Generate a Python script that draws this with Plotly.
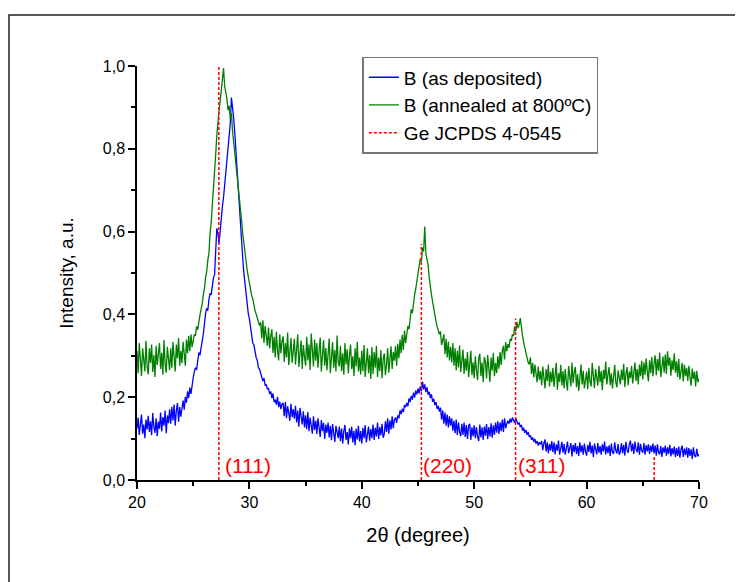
import plotly.graph_objects as go

# 2-theta grid: 20.0 .. 70.0 step 0.1
two_theta_start = 20.0
two_theta_step = 0.1

as_deposited = [
    0.124,0.151,0.109,0.139,0.158,0.112,0.134,0.101,0.146,0.122,
    0.155,0.116,0.142,0.108,0.162,0.129,0.114,0.149,0.106,0.141,
    0.124,0.163,0.117,0.152,0.131,0.168,0.113,0.156,0.137,0.171,
    0.136,0.177,0.144,0.182,0.131,0.168,0.186,0.141,0.176,0.153,
    0.178,0.192,0.170,0.201,0.187,0.214,0.198,0.223,0.208,0.236,
    0.247,0.262,0.271,0.266,0.289,0.308,0.301,0.327,0.336,0.352,
    0.388,0.402,0.415,0.409,0.436,0.451,0.447,0.472,0.488,0.496,
    0.548,0.608,0.596,0.572,0.601,0.638,0.661,0.683,0.712,0.734,
    0.756,0.788,0.822,0.861,0.924,0.903,0.874,0.838,0.792,0.738,
    0.701,0.656,0.612,0.571,0.538,0.502,0.474,0.446,0.421,0.402,
    0.389,0.368,0.352,0.331,0.326,0.308,0.296,0.289,0.271,0.268,
    0.258,0.251,0.239,0.246,0.228,0.231,0.219,0.222,0.208,0.214,
    0.198,0.209,0.188,0.194,0.182,0.201,0.176,0.189,0.171,0.184,
    0.186,0.154,0.189,0.149,0.178,0.163,0.143,0.184,0.152,0.171,
    0.148,0.179,0.139,0.168,0.129,0.174,0.145,0.134,0.166,0.127,
    0.156,0.123,0.164,0.118,0.151,0.131,0.112,0.154,0.121,0.143,
    0.111,0.149,0.121,0.104,0.145,0.118,0.138,0.099,0.134,0.114,
    0.139,0.103,0.131,0.096,0.135,0.114,0.092,0.131,0.109,0.101,
    0.129,0.094,0.124,0.088,0.118,0.133,0.097,0.116,0.086,0.125,
    0.101,0.129,0.091,0.119,0.084,0.124,0.098,0.131,0.093,0.118,
    0.088,0.126,0.101,0.133,0.091,0.119,0.129,0.095,0.123,0.101,
    0.134,0.097,0.126,0.105,0.139,0.099,0.128,0.108,0.136,0.102,
    0.111,0.142,0.116,0.149,0.112,0.144,0.122,0.154,0.125,0.146,
    0.151,0.138,0.156,0.149,0.168,0.159,0.172,0.164,0.181,0.176,
    0.186,0.178,0.197,0.188,0.203,0.194,0.211,0.199,0.216,0.207,
    0.221,0.209,0.226,0.214,0.238,0.219,0.231,0.212,0.224,0.206,
    0.213,0.198,0.207,0.189,0.196,0.181,0.188,0.172,0.179,0.165,
    0.175,0.146,0.168,0.136,0.163,0.131,0.158,0.127,0.154,0.131,
    0.149,0.119,0.143,0.113,0.146,0.109,0.139,0.117,0.106,0.136,
    0.109,0.139,0.104,0.133,0.099,0.131,0.136,0.097,0.127,0.106,
    0.132,0.101,0.128,0.104,0.094,0.134,0.103,0.127,0.097,0.129,
    0.107,0.135,0.099,0.128,0.105,0.137,0.102,0.132,0.109,0.139,
    0.114,0.142,0.111,0.139,0.118,0.146,0.116,0.149,0.125,0.136,
    0.143,0.136,0.148,0.139,0.151,0.144,0.138,0.149,0.141,0.134,
    0.139,0.128,0.133,0.119,0.126,0.114,0.121,0.109,0.116,0.104,
    0.108,0.097,0.103,0.092,0.099,0.088,0.094,0.083,0.091,0.086,
    0.094,0.072,0.089,0.098,0.069,0.091,0.065,0.087,0.071,0.094,
    0.067,0.091,0.062,0.086,0.071,0.095,0.061,0.084,0.092,0.066,
    0.087,0.061,0.083,0.093,0.065,0.079,0.089,0.057,0.085,0.068,
    0.089,0.063,0.082,0.058,0.091,0.067,0.084,0.061,0.088,0.069,
    0.059,0.085,0.068,0.092,0.064,0.083,0.056,0.088,0.069,0.062,
    0.089,0.066,0.082,0.061,0.086,0.069,0.093,0.062,0.081,0.065,
    0.084,0.058,0.088,0.067,0.063,0.091,0.071,0.064,0.087,0.061,
    0.068,0.089,0.065,0.085,0.059,0.092,0.072,0.066,0.086,0.095,
    0.069,0.088,0.063,0.093,0.074,0.067,0.091,0.061,0.087,0.071,
    0.066,0.089,0.061,0.084,0.069,0.086,0.063,0.083,0.068,0.088,
    0.064,0.083,0.059,0.086,0.067,0.062,0.082,0.056,0.079,0.066,
    0.083,0.059,0.079,0.063,0.085,0.057,0.077,0.062,0.081,0.055,
    0.077,0.058,0.081,0.054,0.074,0.083,0.056,0.076,0.060,0.079,
    0.054,0.077,0.058,0.074,0.051,0.079,0.059,0.055,0.075,0.057,
    0.062,
]

annealed_800 = [
    0.312,0.258,0.331,0.279,0.251,0.318,0.296,0.262,0.336,0.274,
    0.255,0.318,0.283,0.327,0.261,0.302,0.249,0.324,0.278,0.309,
    0.331,0.268,0.307,0.254,0.338,0.281,0.259,0.322,0.291,0.265,
    0.318,0.271,0.334,0.286,0.262,0.327,0.294,0.343,0.276,0.312,
    0.282,0.334,0.301,0.276,0.339,0.306,0.348,0.311,0.352,0.321,
    0.336,0.352,0.348,0.371,0.363,0.389,0.398,0.412,0.425,0.447,
    0.462,0.489,0.503,0.531,0.548,0.597,0.621,0.664,0.698,0.741,
    0.786,0.832,0.871,0.893,0.915,0.942,0.968,0.995,0.951,0.938,
    0.921,0.893,0.904,0.872,0.886,0.843,0.818,0.791,0.764,0.741,
    0.712,0.681,0.655,0.628,0.597,0.571,0.548,0.526,0.507,0.491,
    0.474,0.461,0.446,0.438,0.421,0.409,0.401,0.392,0.381,0.373,
    0.381,0.342,0.386,0.331,0.372,0.339,0.324,0.368,0.318,0.349,
    0.364,0.307,0.346,0.296,0.358,0.314,0.289,0.352,0.306,0.336,
    0.347,0.285,0.331,0.296,0.356,0.278,0.322,0.343,0.283,0.319,
    0.341,0.279,0.318,0.352,0.273,0.311,0.337,0.268,0.326,0.298,
    0.276,0.346,0.289,0.327,0.266,0.354,0.301,0.274,0.339,0.288,
    0.331,0.271,0.312,0.344,0.262,0.305,0.338,0.276,0.319,0.265,
    0.309,0.342,0.258,0.296,0.333,0.271,0.314,0.262,0.349,0.284,
    0.274,0.324,0.263,0.306,0.254,0.331,0.279,0.316,0.258,0.301,
    0.327,0.268,0.299,0.251,0.318,0.274,0.334,0.262,0.296,0.255,
    0.313,0.263,0.326,0.249,0.291,0.318,0.258,0.302,0.244,0.321,
    0.256,0.309,0.271,0.324,0.249,0.296,0.263,0.314,0.246,0.292,
    0.306,0.253,0.279,0.318,0.259,0.292,0.323,0.268,0.309,0.288,
    0.324,0.276,0.329,0.294,0.339,0.306,0.351,0.314,0.361,0.331,
    0.357,0.372,0.364,0.391,0.412,0.403,0.431,0.448,0.462,0.479,
    0.497,0.512,0.534,0.528,0.561,0.552,0.612,0.547,0.531,0.519,
    0.488,0.462,0.447,0.431,0.412,0.396,0.384,0.371,0.363,0.352,
    0.359,0.326,0.338,0.352,0.304,0.341,0.296,0.334,0.289,0.322,
    0.284,0.331,0.276,0.318,0.265,0.312,0.272,0.325,0.261,0.299,
    0.315,0.256,0.294,0.264,0.309,0.249,0.288,0.312,0.253,0.284,
    0.246,0.299,0.266,0.241,0.294,0.305,0.251,0.284,0.236,0.297,
    0.286,0.245,0.302,0.259,0.237,0.296,0.264,0.307,0.251,0.283,
    0.258,0.299,0.269,0.309,0.278,0.312,0.324,0.291,0.333,0.311,
    0.328,0.319,0.341,0.336,0.352,0.348,0.371,0.359,0.382,0.367,
    0.374,0.391,0.362,0.348,0.332,0.317,0.303,0.296,0.284,0.279,
    0.296,0.256,0.283,0.248,0.279,0.254,0.236,0.274,0.242,0.263,
    0.229,0.274,0.246,0.221,0.268,0.239,0.279,0.226,0.262,0.236,
    0.271,0.225,0.254,0.283,0.218,0.258,0.237,0.278,0.228,0.263,
    0.222,0.268,0.238,0.216,0.275,0.251,0.226,0.284,0.234,0.261,
    0.273,0.224,0.256,0.215,0.249,0.279,0.231,0.264,0.221,0.247,
    0.262,0.219,0.271,0.239,0.226,0.283,0.249,0.222,0.268,0.241,
    0.228,0.276,0.236,0.263,0.217,0.266,0.244,0.286,0.231,0.255,
    0.273,0.229,0.258,0.221,0.251,0.278,0.236,0.224,0.265,0.243,
    0.231,0.267,0.241,0.281,0.225,0.256,0.273,0.229,0.262,0.246,
    0.275,0.233,0.261,0.284,0.239,0.268,0.231,0.279,0.251,0.288,
    0.243,0.284,0.254,0.294,0.262,0.238,0.289,0.258,0.297,0.251,
    0.281,0.301,0.253,0.292,0.264,0.308,0.249,0.284,0.298,0.259,
    0.303,0.256,0.311,0.276,0.296,0.252,0.289,0.266,0.306,0.259,
    0.287,0.249,0.293,0.243,0.272,0.283,0.238,0.279,0.251,0.271,
    0.239,0.276,0.249,0.228,0.269,0.244,0.262,0.226,0.264,0.236,
    0.245,
]

# Ge JCPDS 4-0545 reference reflections
ref_positions = [27.28, 45.30, 53.68, 66.01]
ref_intensities = [1.00, 0.57, 0.39, 0.06]
ref_labels = ["(111)", "(220)", "(311)"]
label_positions = [27.65, 45.25, 53.75]
label_height = 0.035

font_family = "Liberation Sans, Arial, sans-serif"

fig = go.Figure()
fig.add_trace(go.Scatter(
    x0=two_theta_start, dx=two_theta_step, y=as_deposited, mode="lines",
    name="B (as deposited)", line=dict(color="#0000FF", width=1.3)))
fig.add_trace(go.Scatter(
    x0=two_theta_start, dx=two_theta_step, y=annealed_800, mode="lines",
    name="B (annealed at 800ºC)", line=dict(color="#008000", width=1.3)))

ref_x, ref_y = [], []
for p, h in zip(ref_positions, ref_intensities):
    ref_x += [p, p, None]
    ref_y += [0, h, None]
fig.add_trace(go.Scatter(
    x=ref_x, y=ref_y, mode="lines", name="Ge JCPDS 4-0545",
    line=dict(color="#FF0000", width=1.5, dash="3px,2px")))

for lx, txt in zip(label_positions, ref_labels):
    fig.add_annotation(x=lx, y=label_height, text=txt, showarrow=False,
                       xanchor="left", yanchor="middle",
                       font=dict(color="#FF0000", size=21, family=font_family))

# outer frame
fig.add_shape(type="rect", xref="paper", yref="paper",
              x0=-0.2278, x1=1.2, y0=-0.4, y1=1.123,
              line=dict(color="#222222", width=1.5), layer="below")

fig.update_layout(
    width=743, height=582,
    margin=dict(l=129, r=52, t=58, b=110),
    paper_bgcolor="white", plot_bgcolor="white",
    separators=",.",
    font=dict(family=font_family, size=17, color="black"),
    showlegend=True,
    legend=dict(x=0.401, y=1.022, xanchor="left", yanchor="top",
                bgcolor="white", bordercolor="#777777", borderwidth=1.5,
                font=dict(size=19, family=font_family),
                tracegroupgap=0, itemwidth=30),
    xaxis=dict(range=[20, 70], dtick=10, tick0=20, showgrid=False, zeroline=False,
               showline=True, linecolor="black", linewidth=1.5,
               ticks="outside", ticklen=7, tickwidth=1.5, tickcolor="black",
               minor=dict(dtick=5, ticks="outside", ticklen=4, tickwidth=1.5, tickcolor="black"),
               title=dict(text="2θ (degree)", standoff=18),
               tickfont=dict(size=16)),
    yaxis=dict(range=[0, 1.0], dtick=0.2, tick0=0, tickformat=".1f",
               showgrid=False, zeroline=False,
               showline=True, linecolor="black", linewidth=1.5,
               ticks="outside", ticklen=7, tickwidth=1.5, tickcolor="black",
               minor=dict(dtick=0.1, ticks="outside", ticklen=4, tickwidth=1.5, tickcolor="black"),
               title=dict(text="Intensity, a.u.", standoff=24, font=dict(size=19)),
               tickfont=dict(size=16)),
)

fig.write_html("out.html")
